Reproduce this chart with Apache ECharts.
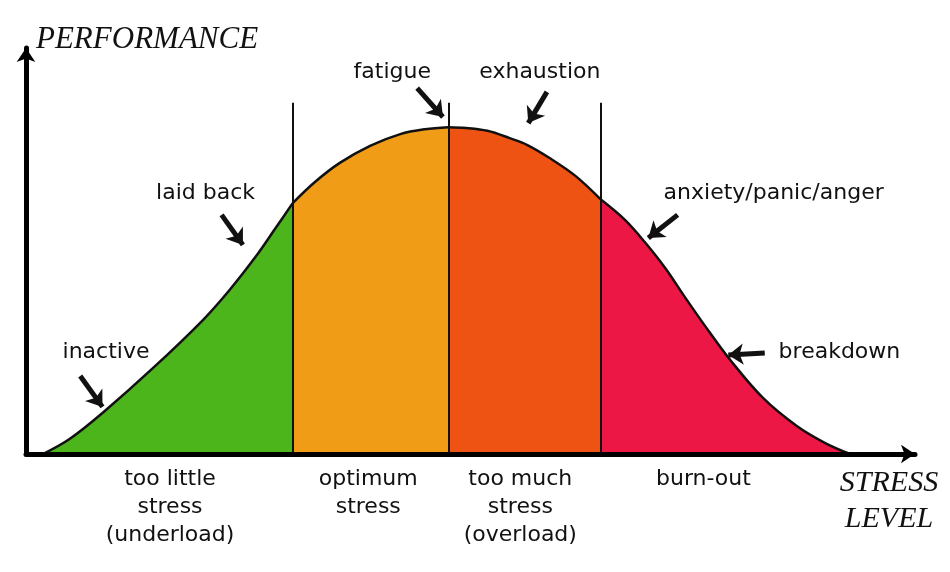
<!DOCTYPE html>
<html>
<head>
<meta charset="utf-8">
<script src="https://cdn.jsdelivr.net/npm/echarts@6/dist/echarts.min.js"></script>
<style>html,body{margin:0;padding:0;background:#fff}#c{width:950px;height:572px}</style>
</head>
<body>
<div id="c"></div>
<script>
// Curve (stress level 0-100 vs performance 0-100)
const stressX = [1.9, 4.9, 8.7, 14.3, 19.9, 22.9, 25.8, 28.0, 30.0, 32.5, 35.3, 38.7, 42.1, 44.9, 47.5, 49.5, 51.9, 54.4, 56.4, 58.9, 61.8, 64.7, 67.4, 69.6, 71.9, 74.1, 76.4, 79.2, 82.9, 86.7, 89.9, 92.7];
const performance = [0, 3.7, 10.3, 21.2, 33.0, 40.4, 48.5, 55.4, 61.8, 67.0, 71.7, 75.9, 78.8, 80.0, 80.5, 80.3, 79.6, 77.8, 76.1, 72.9, 68.5, 62.6, 57.6, 52.2, 45.8, 38.7, 31.5, 23.2, 13.8, 6.9, 2.7, 0];
// Zone boundaries
const zoneBounds = [0, 30.0, 47.5, 64.7, 100];
const dividerX = [30.0, 47.5, 64.7];
const dividerTop = 86.5;
const zoneColors = ['#4cb51b', '#f09c17', '#ee5313', '#ec1744'];
const zoneLabels = ['too little\nstress\n(underload)', 'optimum\nstress', 'too much\nstress\n(overload)', 'burn-out'];
const zoneLabelX = [16.2, 38.5, 55.6, 76.2];
const zoneLabelY = -2.9;
// Annotations
const noteTexts = ['inactive', 'laid back', 'fatigue', 'exhaustion', 'anxiety/panic/anger', 'breakdown'];
const noteX = [9.0, 20.2, 41.2, 57.8, 84.1, 91.5];
const noteY = [25.1, 64.3, 94.1, 94.1, 64.3, 25.1];
const arrowFrom = [[6.1, 19.2], [22.0, 58.9], [44.0, 90.1], [58.6, 89.2], [73.3, 58.9], [83.1, 24.9]];
const arrowTo = [[8.6, 11.6], [24.4, 51.5], [46.9, 83.0], [56.5, 81.5], [70.0, 53.2], [79.0, 24.4]];

const hand = '"DejaVu Sans", sans-serif';
const serifIt = '"Liberation Serif", "DejaVu Serif", serif';

const series = [];
for (let z = 0; z < 4; z++) {
  const pts = [];
  for (let i = 0; i < stressX.length; i++) {
    if (stressX[i] >= zoneBounds[z] && stressX[i] <= zoneBounds[z + 1]) pts.push([stressX[i], performance[i]]);
  }
  series.push({
    type: 'line', data: pts, smooth: 0.35, symbol: 'none', silent: true,
    lineStyle: { color: '#111', width: 2.5 },
    areaStyle: { color: zoneColors[z], opacity: 1, origin: 'start' },
    z: 2
  });
}
series.push({
  type: 'line', data: [], silent: true, z: 4,
  markLine: {
    silent: true, symbol: 'none', label: { show: false },
    lineStyle: { color: '#111', width: 2, type: 'solid' },
    data: dividerX.map(x => [{ coord: [x, 0] }, { coord: [x, dividerTop] }])
  }
});
series.push({
  type: 'line', data: [], silent: true, z: 5,
  markLine: {
    silent: true, symbol: ['none', 'arrow'], symbolSize: [16, 15], label: { show: false },
    lineStyle: { color: '#111', width: 5, type: 'solid' },
    data: arrowFrom.map((f, i) => [{ coord: f }, { coord: arrowTo[i] }])
  }
});

const chart = echarts.init(document.getElementById('c'));
chart.setOption({
  animation: false,
  grid: { left: 26, right: 35, top: 48, bottom: 118 },
  xAxis: {
    type: 'value', min: 0, max: 100, z: 10,
    axisLine: { lineStyle: { color: '#000', width: 5 }, symbol: ['none', 'arrow'], symbolSize: [14, 14] },
    axisTick: { show: false }, axisLabel: { show: false }, splitLine: { show: false },
    name: 'STRESS\nLEVEL', nameLocation: 'end', nameGap: -26,
    nameTextStyle: { fontFamily: serifIt, fontStyle: 'italic', fontSize: 30, color: '#111', align: 'center', verticalAlign: 'top', lineHeight: 36, padding: [11, 0, 0, 0] }
  },
  yAxis: {
    type: 'value', min: 0, max: 100, z: 10,
    axisLine: { lineStyle: { color: '#000', width: 5 }, symbol: ['none', 'arrow'], symbolSize: [14, 14] },
    axisTick: { show: false }, axisLabel: { show: false }, splitLine: { show: false },
    name: 'PERFORMANCE', nameLocation: 'end', nameGap: 0,
    nameTextStyle: { fontFamily: serifIt, fontStyle: 'italic', fontSize: 31, color: '#111', align: 'left', verticalAlign: 'bottom', padding: [0, 0, -7, 10] }
  },
  series: series
});

const g = [];
noteTexts.forEach((t, i) => {
  const p = chart.convertToPixel({ gridIndex: 0 }, [noteX[i], noteY[i]]);
  g.push({ type: 'text', x: p[0], y: p[1], z: 20, style: { text: t, font: '22px ' + hand, fill: '#111', align: 'center', verticalAlign: 'middle' } });
});
zoneLabels.forEach((t, i) => {
  const p = chart.convertToPixel({ gridIndex: 0 }, [zoneLabelX[i], zoneLabelY]);
  g.push({ type: 'text', x: p[0], y: p[1], z: 20, style: { text: t, font: '22px ' + hand, fill: '#111', align: 'center', verticalAlign: 'top', lineHeight: 28 } });
});
chart.setOption({ graphic: g });
</script>
</body>
</html>
